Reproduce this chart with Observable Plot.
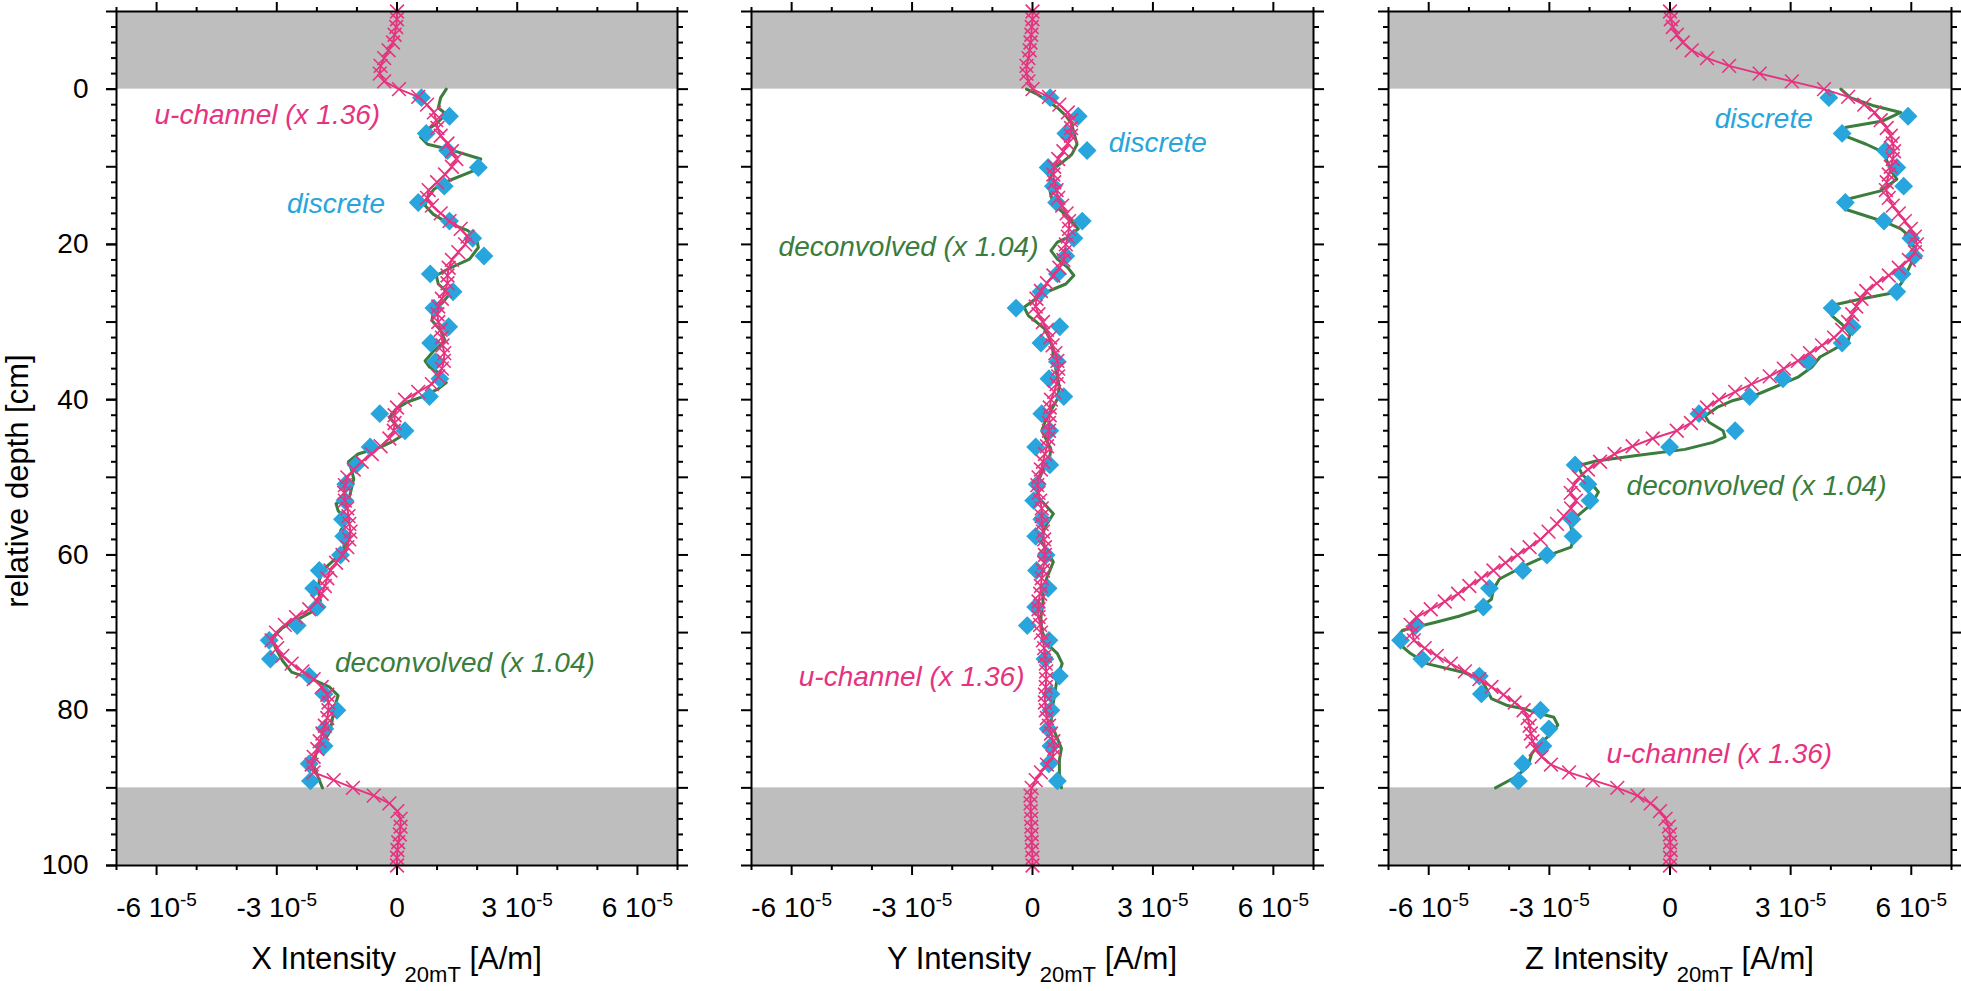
<!DOCTYPE html>
<html><head><meta charset="utf-8">
<script src="https://cdn.jsdelivr.net/npm/d3@7"></script>
<script src="https://cdn.jsdelivr.net/npm/@observablehq/plot@0.6"></script>
<style>
html,body{margin:0;padding:0;background:#fff;}
#chart{position:relative;width:1961px;height:991px;overflow:hidden;background:#fff;}
#chart svg{position:absolute;top:0;}
</style></head><body><div id="chart"></div>
<script>
// values in units of 1e-5 A/m
const UNIT = 1e-5;

// u-channel sampling depths (cm), every 1 cm from -10 to 100
const uDepth = [-10,-9,-8,-7,-6,-5,-4,-3,-2,-1,0,1,2,3,4,5,6,7,8,9,10,11,12,13,14,15,16,17,18,19,20,21,22,23,24,25,26,27,28,29,30,31,32,33,34,35,36,37,38,39,40,41,42,43,44,45,46,47,48,49,50,51,52,53,54,55,56,57,58,59,60,61,62,63,64,65,66,67,68,69,70,71,72,73,74,75,76,77,78,79,80,81,82,83,84,85,86,87,88,89,90,91,92,93,94,95,96,97,98,99,100];

const uX = [0.0,0.0,-0.02,-0.06,-0.1,-0.21,-0.32,-0.41,-0.43,-0.32,0.05,0.53,0.75,0.92,0.98,1.01,1.09,1.26,1.37,1.48,1.37,1.2,1.0,0.79,0.75,0.87,1.09,1.31,1.59,1.76,1.7,1.53,1.37,1.29,1.26,1.26,1.2,1.12,1.03,1.01,1.03,1.09,1.12,1.14,1.18,1.17,1.12,1.03,0.87,0.53,0.2,0.0,-0.06,-0.06,-0.08,-0.19,-0.41,-0.63,-0.88,-1.08,-1.24,-1.3,-1.32,-1.3,-1.24,-1.21,-1.19,-1.16,-1.19,-1.24,-1.36,-1.52,-1.66,-1.74,-1.8,-1.88,-1.99,-2.19,-2.52,-2.8,-3.02,-3.13,-2.99,-2.86,-2.63,-2.36,-2.08,-1.88,-1.74,-1.71,-1.71,-1.74,-1.8,-1.86,-1.93,-1.99,-2.08,-2.13,-2.08,-1.58,-1.1,-0.58,-0.19,0.01,0.09,0.09,0.07,0.03,0.01,0.0,0.0];

const uY = [0.0,0.0,-0.02,-0.03,-0.05,-0.07,-0.1,-0.15,-0.15,-0.1,0.0,0.41,0.67,0.88,0.96,0.96,0.96,0.88,0.77,0.64,0.54,0.52,0.54,0.6,0.64,0.74,0.85,0.91,0.91,0.88,0.83,0.8,0.77,0.67,0.52,0.36,0.21,0.1,0.08,0.15,0.26,0.36,0.44,0.5,0.57,0.62,0.64,0.64,0.6,0.54,0.46,0.43,0.43,0.41,0.41,0.39,0.36,0.31,0.26,0.21,0.15,0.12,0.15,0.19,0.23,0.23,0.23,0.26,0.29,0.31,0.31,0.29,0.26,0.23,0.21,0.19,0.15,0.15,0.15,0.19,0.21,0.26,0.29,0.31,0.33,0.34,0.34,0.33,0.31,0.31,0.33,0.36,0.41,0.46,0.52,0.54,0.5,0.36,0.21,0.08,-0.02,-0.05,-0.05,-0.04,-0.03,-0.03,-0.02,-0.02,-0.01,0.0,0.0];

const uZ = [0.0,0.02,0.07,0.17,0.32,0.54,0.92,1.47,2.23,3.03,3.83,4.43,4.83,5.09,5.24,5.39,5.49,5.54,5.57,5.54,5.49,5.44,5.39,5.37,5.44,5.54,5.69,5.84,5.99,6.09,6.14,6.09,5.94,5.69,5.44,5.14,4.88,4.76,4.63,4.53,4.43,4.28,4.08,3.78,3.48,3.18,2.83,2.48,2.03,1.62,1.22,0.92,0.72,0.52,0.17,-0.43,-0.93,-1.38,-1.74,-2.04,-2.26,-2.39,-2.47,-2.34,-2.46,-2.64,-2.81,-3.02,-3.22,-3.49,-3.79,-4.09,-4.39,-4.69,-4.99,-5.27,-5.6,-5.95,-6.3,-6.45,-6.4,-6.37,-6.1,-5.8,-5.45,-5.1,-4.74,-4.44,-4.14,-3.86,-3.64,-3.54,-3.49,-3.46,-3.42,-3.34,-3.19,-2.96,-2.51,-1.92,-1.31,-0.81,-0.48,-0.25,-0.11,-0.03,0.0,0.0,0.02,0.0,0.0];

// discrete samples (shared depths)
const discDepth = [1.1,3.5,5.7,7.9,10.1,12.5,14.6,17.0,19.2,21.5,23.8,26.1,28.2,30.6,32.7,35.1,37.3,39.6,41.8,44.0,46.1,48.4,50.9,53.0,55.4,57.6,60.0,62.0,64.3,66.7,69.1,71.0,73.4,75.6,77.9,80.0,82.4,84.6,86.9,89.1];
const discX = [0.61,1.31,0.73,1.26,2.03,1.18,0.53,1.31,1.89,2.17,0.83,1.4,0.92,1.29,0.84,0.96,1.07,0.81,-0.43,0.2,-0.67,-1.02,-1.28,-1.3,-1.36,-1.33,-1.41,-1.94,-2.08,-1.99,-2.49,-3.19,-3.16,-2.19,-1.82,-1.5,-1.8,-1.82,-2.19,-2.16];
const discY = [0.44,1.14,0.83,1.36,0.39,0.52,0.6,1.24,1.03,0.83,0.62,0.21,-0.41,0.68,0.21,0.62,0.41,0.78,0.23,0.43,0.08,0.43,0.12,0.03,0.23,0.08,0.34,0.1,0.39,0.08,-0.13,0.41,0.31,0.67,0.46,0.46,0.39,0.46,0.41,0.62];
const discZ = [3.95,5.92,4.28,5.36,5.64,5.81,4.36,5.32,5.99,6.07,5.77,5.64,4.03,4.53,4.28,3.43,2.81,1.98,0.72,1.62,-0.01,-2.36,-2.04,-1.99,-2.44,-2.41,-3.06,-3.66,-4.49,-4.64,-6.32,-6.7,-6.17,-4.74,-4.69,-3.22,-3.01,-3.16,-3.66,-3.77];

// deconvolved profiles
const gDepthX = [0,1.1,2.4,3.2,4.5,5.2,6.2,7.1,7.7,9.0,10.5,11.8,12.9,14.0,15.0,16.1,17.2,18.2,19.1,20.4,21.9,23.2,24.0,25.1,26.4,27.5,28.5,29.8,31.1,32.4,33.7,35.0,35.8,36.5,37.8,38.6,39.7,40.3,41.2,42.3,43.3,44.4,45.3,46.1,47.0,48.0,49.1,50.2,51.3,52.6,53.4,54.3,55.6,56.9,58.2,59.4,60.7,62.0,63.3,64.6,65.9,67.2,68.1,69.4,70.8,72.1,73.6,75.1,76.1,77.0,78.1,80.0,81.7,82.9,84.3,85.6,87.1,88.6,90.0];
const gValX = [1.23,1.09,1.03,1.22,0.98,0.76,0.59,0.76,1.26,2.09,1.92,1.29,0.92,0.76,0.7,0.9,1.26,1.76,1.98,2.03,1.81,1.26,0.98,1.03,1.31,1.14,0.92,0.87,1.09,1.2,0.92,0.7,0.81,1.03,1.23,1.03,0.59,0.26,-0.02,-0.19,-0.02,0.2,-0.08,-0.41,-0.97,-1.21,-1.13,-1.08,-1.13,-1.19,-1.52,-1.47,-1.24,-1.41,-1.24,-1.36,-1.58,-1.86,-1.94,-1.97,-1.91,-2.08,-2.41,-2.86,-3.13,-3.02,-2.86,-2.63,-2.08,-1.69,-1.47,-1.58,-1.63,-1.69,-1.86,-2.02,-2.08,-1.97,-1.86];

const gDepthY = [0,0.6,1.5,2.4,3.4,4.5,5.6,7.1,8.4,9.3,10.1,11.2,12.4,13.7,14.8,15.7,16.7,18.0,19.1,19.7,20.8,21.9,23.0,24.0,25.1,26.0,27.3,28.1,29.2,30.0,30.9,32.0,33.3,34.5,35.8,37.1,38.4,39.9,41.4,42.9,44.0,45.3,46.4,47.9,49.1,50.4,51.7,52.6,54.7,56.4,58.2,59.9,60.9,62.9,64.6,66.3,68.0,69.7,71.4,72.7,74.0,75.7,77.4,79.6,81.7,83.4,84.9,86.4,88.1,90.0];
const gValY = [-0.15,0.1,0.36,0.62,0.83,0.98,1.03,1.11,0.98,0.77,0.57,0.46,0.41,0.46,0.52,0.72,0.93,1.14,0.88,0.62,0.46,0.62,0.88,1.03,0.83,0.41,0.0,-0.21,-0.1,0.1,0.31,0.41,0.5,0.52,0.57,0.62,0.67,0.62,0.46,0.31,0.23,0.36,0.46,0.41,0.26,0.15,0.1,0.15,0.52,0.31,0.21,0.41,0.52,0.36,0.26,0.26,0.21,0.23,0.36,0.62,0.74,0.62,0.57,0.5,0.46,0.6,0.72,0.67,0.67,0.72];

const gDepthZ = [0,1.1,2.1,3.0,4.1,4.9,6.0,7.1,8.2,9.2,10.5,11.6,13.1,14.4,15.5,16.5,17.2,18.0,19.1,20.8,22.5,24.7,26.2,27.0,27.9,29.2,30.3,31.5,32.4,33.5,34.5,35.8,37.1,38.0,39.3,40.1,41.0,42.1,42.9,44.0,44.8,45.5,46.4,47.2,47.9,48.5,49.6,50.6,51.9,53.4,54.7,56.0,57.7,59.0,59.7,60.5,61.2,62.0,63.1,64.4,65.7,67.2,67.9,68.7,69.7,70.6,71.6,72.7,74.0,75.1,76.1,77.0,78.5,79.4,79.8,80.3,80.9,81.9,83.2,84.3,85.6,87.3,88.6,90.0];
const gValZ = [4.25,4.48,5.04,5.74,5.29,4.38,4.33,4.88,5.34,5.39,5.49,5.64,5.24,4.23,4.38,4.98,5.39,5.74,5.99,6.09,5.99,5.79,5.59,4.78,3.98,4.03,4.28,4.48,4.43,4.08,3.73,3.53,3.18,2.78,2.18,1.57,1.17,0.87,0.97,1.32,1.37,1.07,0.37,-0.83,-1.84,-2.29,-2.19,-1.99,-1.78,-1.94,-2.24,-2.49,-2.39,-2.46,-2.84,-3.24,-3.54,-3.84,-4.24,-4.39,-4.44,-4.84,-5.25,-5.85,-6.65,-6.8,-6.7,-6.45,-6.05,-5.15,-4.69,-4.59,-4.44,-4.04,-3.64,-3.34,-2.89,-2.79,-2.99,-3.24,-3.44,-3.54,-3.84,-4.34];

// grey bands (depth ranges outside the core section)
const bandTop = [-10, 90];
const bandBottom = [0, 100];

// axis ticks
const xMajor = [-6, -3, 0, 3, 6];
const xMinor = [-7,-5,-4,-2,-1,1,2,4,5,7];
const yLabelTicks = [0, 20, 40, 60, 80, 100];
const yMajor = [-10,0,10,20,30,40,50,60,70,80,90,100];
const yMinor = [-8,-6,-4,-2,2,4,6,8,12,14,16,18,22,24,26,28,32,34,36,38,42,44,46,48,52,54,56,58,62,64,66,68,72,74,76,78,82,84,86,88,92,94,96,98];

// annotation labels
const noteText = ["u-channel (x 1.36)", "discrete", "deconvolved (x 1.04)"];
const noteKind = ["u", "d", "g"];
const notesXpos = [-0.42, -0.3, -1.55], notesXdep = [3.3, 14.8, 73.9], notesXanchor = ["end","end","start"];
const notesYpos = [-0.2, 1.9, 0.15], notesYdep = [75.7, 7.0, 20.4], notesYanchor = ["end","start","end"];
const notesZpos = [-1.58, 3.55, -1.08], notesZdep = [85.7, 3.9, 51.1], notesZanchor = ["start","end","start"];

const axisTitles = ["X", "Y", "Z"];

const PINK = "#e6337f", GREEN = "#3a7d3c", CYAN = "#27a5dc", GREY = "#bebebe";

// prefer a condensed sans face (like the original) when one is installed
function hasFont(name) {
  const c = document.createElement("canvas").getContext("2d");
  const s = "abcdefghijklmnopqrstuvwxyzABCDEFGHIJKLMNOPQRSTUVWXYZ0123456789";
  c.font = "40px monospace"; const w0 = c.measureText(s).width;
  c.font = `40px "${name}", monospace`; const w1 = c.measureText(s).width;
  return Math.abs(w0 - w1) > 0.5;
}
const NARROW = hasFont("Liberation Sans Narrow");
const FONT = NARROW ? '"Liberation Sans Narrow", "Liberation Sans", Arial, sans-serif' : '"Liberation Sans", Arial, Helvetica, sans-serif';
const K = NARROW ? 1 / 0.84 : 1;
const FS_TICK = 28 * K, FS_NOTE = 28 * K, FS_TITLE = 31 * K, FS_SUB = 22 * K;

const colorOf = {u: PINK, d: CYAN, g: GREEN};

const panels = [
  {u: uX, disc: discX, gD: gDepthX, gV: gValX, np: notesXpos, nd: notesXdep, na: notesXanchor, left: 0, width: 697, ml: 116, mr: 20, yLabels: true},
  {u: uY, disc: discY, gD: gDepthY, gV: gValY, np: notesYpos, nd: notesYdep, na: notesYanchor, left: 731, width: 602, ml: 20, mr: 20, yLabels: false},
  {u: uZ, disc: discZ, gD: gDepthZ, gV: gValZ, np: notesZpos, nd: notesZdep, na: notesZanchor, left: 1368, width: 593, ml: 20, mr: 10, yLabels: false}
];

const H = 991, MT = 11, MB = 126;
const chart = document.getElementById("chart");

panels.forEach((p, i) => {
  const uData = uDepth.map((d, k) => ({depth: d, v: p.u[k] * UNIT}));
  const dData = discDepth.map((d, k) => ({depth: d, v: p.disc[k] * UNIT}));
  const gData = p.gD.map((d, k) => ({depth: d, v: p.gV[k] * UNIT}));
  const bands = bandTop.map((t, k) => ({y1: t, y2: bandBottom[k]}));
  const notes = noteText.map((t, k) => ({text: t, kind: noteKind[k], v: p.np[k] * UNIT, depth: p.nd[k], anchor: p.na[k]}));

  const noTxt = () => "";
  const common = {strokeWidth: 2, label: null};
  const marks = [
    Plot.rect(bands, {y1: "y1", y2: "y2", fill: GREY}),
    Plot.line(gData, {x: "v", y: "depth", stroke: GREEN, strokeWidth: 3}),
    Plot.dot(dData, {x: "v", y: "depth", symbol: "diamond2", r: 8.5, fill: CYAN, stroke: null}),
    Plot.line(uData, {x: "v", y: "depth", stroke: PINK, strokeWidth: 2}),
    Plot.dot(uData, {x: "v", y: "depth", symbol: "times", r: 6.3, stroke: PINK, strokeWidth: 1.6}),
    Plot.frame({stroke: "black", strokeWidth: 2}),
    Plot.axisX({...common, anchor: "bottom", ticks: xMajor.map(t => t * UNIT), tickSize: 10, tickPadding: 22, fontSize: FS_TICK,
      tickFormat: d => { const n = Math.round(d / UNIT); return n === 0 ? "0" : `${n} 10`; }}),
    Plot.axisX({...common, anchor: "bottom", ticks: xMinor.map(t => t * UNIT), tickSize: 5, tickFormat: noTxt}),
    Plot.axisX({...common, anchor: "top", ticks: xMajor.map(t => t * UNIT), tickSize: 10, tickFormat: noTxt}),
    Plot.axisX({...common, anchor: "top", ticks: xMinor.map(t => t * UNIT), tickSize: 5, tickFormat: noTxt}),
    Plot.axisY({...common, anchor: "left", ticks: yMajor, tickSize: 10, tickFormat: noTxt}),
    Plot.axisY({...common, anchor: "left", ticks: yMinor, tickSize: 5, tickFormat: noTxt}),
    Plot.axisY({...common, anchor: "right", ticks: yMajor, tickSize: 10, tickFormat: noTxt}),
    Plot.axisY({...common, anchor: "right", ticks: yMinor, tickSize: 5, tickFormat: noTxt})
  ];
  for (const a of ["start", "end"]) {
    marks.push(Plot.text(notes.filter(n => n.anchor === a), {x: "v", y: "depth", text: "text", textAnchor: a,
      fill: d => colorOf[d.kind], fontSize: FS_NOTE, fontStyle: "italic"}));
  }
  if (p.yLabels) {
    marks.push(Plot.axisY({...common, anchor: "left", ticks: yLabelTicks, tickSize: 10, tickPadding: 18, fontSize: FS_TICK}));
  }

  const svg = Plot.plot({
    width: p.width, height: H,
    marginLeft: p.ml, marginRight: p.mr, marginTop: MT, marginBottom: MB,
    x: {domain: [-7 * UNIT, 7 * UNIT]},
    y: {domain: [-10, 100], reverse: true},
    style: {fontFamily: FONT, background: "none", color: "black", overflow: "visible"},
    marks
  });
  svg.style.left = p.left + "px";
  chart.appendChild(svg);

  const s = d3.select(svg);
  // superscript exponents on x tick labels
  s.selectAll('g[aria-label="x-axis tick label"] text').each(function() {
    const t = d3.select(this);
    if (t.text().endsWith(" 10")) {
      t.append("tspan").attr("dy", "-0.62em").attr("font-size", "0.68em").text("-5");
    }
  });
  // axis title with subscript
  const cx = p.ml + (p.width - p.ml - p.mr) / 2;
  const title = s.append("text").attr("x", cx).attr("y", 969).attr("text-anchor", "middle")
    .attr("font-family", FONT).attr("font-size", FS_TITLE).attr("fill", "black");
  title.append("tspan").text(axisTitles[i] + " Intensity ");
  title.append("tspan").attr("font-size", FS_SUB).attr("dy", 13).text("20mT");
  title.append("tspan").attr("dy", -13).text(" [A/m]");
  if (p.yLabels) {
    s.append("text").attr("transform", "translate(28,481) rotate(-90)").attr("text-anchor", "middle")
      .attr("font-family", FONT).attr("font-size", FS_TITLE).attr("fill", "black").text("relative depth [cm]");
  }
});
</script></body></html>
